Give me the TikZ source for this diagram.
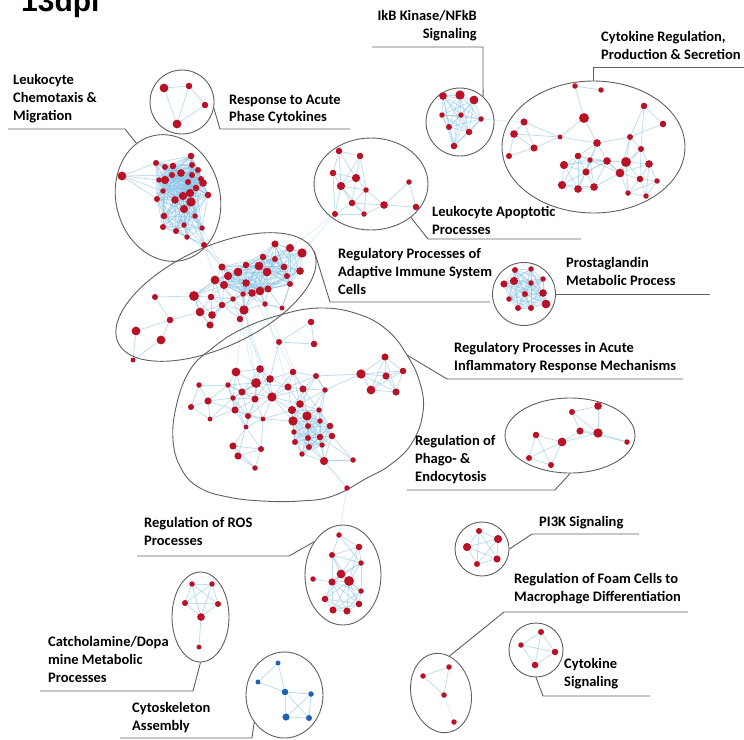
\documentclass[tikz,border=0pt]{standalone}
\usepackage{fontspec}
\setmainfont{Carlito}
\newfontfamily\titlefont{Liberation Sans}
\usetikzlibrary{shapes.geometric,backgrounds}

\definecolor{netred}{RGB}{185,18,38}
\definecolor{netblue}{RGB}{32,98,178}
\definecolor{assocblue}{RGB}{135,195,230}
\definecolor{ringgray}{RGB}{95,95,95}

\tikzset{
  gene/.style={circle, fill=netred, inner sep=0pt, minimum size=#1*1.1pt},
  bluegene/.style={gene=#1, fill=netblue},
  assoc/.style={draw=assocblue, line width=0.8pt, opacity=0.55},
  faintassoc/.style={assoc, opacity=0.3},
  ring/.style={ellipse, draw=ringgray, line width=0.9pt, inner sep=0pt},
  leader/.style={draw=ringgray, line width=0.9pt},
  termlabel/.style={font=\fontsize{14.5}{17.7}\selectfont\bfseries, align=left, anchor=north west, inner sep=0pt},
}

% links between all genes of one group that lie closer than #4
\newcommand\meshnear[4]{%
  \foreach \i in {#2,...,#3}{%
    \foreach \j in {#2,...,#3}{%
      \ifnum\j>\i\relax
        \pgfpointdiff{\pgfpointanchor{#1\i}{center}}{\pgfpointanchor{#1\j}{center}}%
        \pgfgetlastxy{\dx}{\dy}%
        \pgfmathtruncatemacro{\isnear}{veclen(\dx,\dy)<#4}%
        \ifnum\isnear=1 \draw[assoc] (#1\i) -- (#1\j);\fi
      \fi}}}

\begin{document}
\begin{tikzpicture}[x=1pt,y=-1pt]
\useasboundingbox (0,0) rectangle (744,739);
\clip (0,0) rectangle (744,739);

\node[font=\titlefont\bfseries\fontsize{30}{36}\selectfont, anchor=base west, inner sep=0pt] (title) at (21,11) {13dpi};

% group borders
\node[ring, minimum width=64pt, minimum height=64pt] (rsring) at (182,102) {};
\node[ring, minimum width=104pt, minimum height=128pt, rotate=14] (chring) at (168,198) {};
\node[ring, minimum width=68pt, minimum height=68pt] (ikring) at (460,122) {};
\node[ring, minimum width=183pt, minimum height=132pt] (cyring) at (593.5,147) {};
\node[ring, minimum width=114pt, minimum height=92pt] (apring) at (371,184) {};
\node[ring, minimum width=216pt, minimum height=100pt, rotate=25] (adring) at (216,297) {};
\node[ring, minimum width=63pt, minimum height=63pt] (pgring) at (524,294) {};
\draw[leader] plot[smooth cycle, tension=0.7] coordinates {(320,308) (358,314) (387,330) (407,355) (420,383) (423,412) (412,443) (390,465) (367,478) (333,496) (300,501) (262,501) (228,497) (200,488) (182,470) (173,440) (177,403) (190,370) (210,350) (240,330) (280,315)};
\coordinate (actip) at (407,355);
\node[ring, minimum width=130pt, minimum height=75pt] (phring) at (570,435.5) {};
\node[ring, minimum width=76pt, minimum height=100pt] (roring) at (343,575) {};
\node[ring, minimum width=57pt, minimum height=90pt] (caring) at (200.5,617) {};
\node[ring, minimum width=77pt, minimum height=86pt] (skring) at (284.5,695) {};
\node[ring, minimum width=54pt, minimum height=54pt] (piring) at (482,549) {};
\node[ring, minimum width=60pt, minimum height=80pt, rotate=12] (foring) at (441,693) {};
\node[ring, minimum width=54pt, minimum height=54pt] (csring) at (536,650) {};

% genes
\foreach \x/\y/\d [count=\n] in {164/88/8, 189/86/6, 205/105/6, 177/124/8}
  \node[gene=\d] (rs\n) at (\x,\y) {};
\foreach \x/\y/\d [count=\n] in {122/176/8, 156/163/5.5, 165/167/5.5, 173/166/6, 191/156/6, 192/165/5.5, 198/170/5.5, 181/173/7, 172/175/5.5, 192/175/5.5, 159/180/5, 165/180/7.5, 188/182/5.5, 201/179/5.5, 203/183/7, 163/191/5, 196/188/6, 190/193/7.5, 183/196/7.5, 208/195/6, 157/199/5.5, 175/200/7, 191/202/8.5, 184/209/7.5, 164/216/6, 195/216/5, 163/227/5.5, 184/225/5, 176/231/5.5, 202/228/5, 187/237/5, 204/245/5.5}
  \node[gene=\d] (ch\n) at (\x,\y) {};
\foreach \x/\y/\d [count=\n] in {443/96/7, 460/95/8.5, 474/100/8, 442/115/5, 461/115/5, 481/119/5, 449/127/5.5, 469/132/6, 454/146/6}
  \node[gene=\d] (ik\n) at (\x,\y) {};
\foreach \x/\y/\d [count=\n] in {575/86/5, 601/90/5, 584/118/9, 644/106/6, 663/124/6, 524/122/6.5, 514/134/7, 534/148/6.5, 509/156/5.5, 560/137/4.5, 597/143/7, 630/137/5.5, 641/149/5.5, 578/156/6, 590/160/5, 607/161/7, 626/162/9, 649/164/7, 564/165/7.5, 586/172/6.5, 620/173/8, 640/179/6, 657/181/5, 562/185/7.5, 578/189/7, 594/187/7, 628/193/5, 646/196/5}
  \node[gene=\d] (cy\n) at (\x,\y) {};
\foreach \x/\y/\d [count=\n] in {339/151/6, 360/156/6, 333/173/6, 356/178/7.5, 341/186/7.5, 366/190/5, 352/203/6, 335/214/5.5, 364/214/5, 384/205/7, 409/182/5, 416/207/6}
  \node[gene=\d] (ap\n) at (\x,\y) {};
\foreach \x/\y/\d [count=\n] in {275/244/6.5, 290/248/7.5, 302/253/8.5, 263/257/6, 275/259/5.5, 222/267/6.5, 246/265/6, 259/266/8, 284/267/6, 300/271/7, 228/276/7.5, 238/272/8, 267/272/8, 287/276/5.5, 215/280/8, 246/283/7, 224/285/7.5, 268/289/6.5, 290/284/5.5, 260/291/8, 252/293/7, 243/294/5, 155/297/5.5, 194/296/9, 211/297/6, 233/299/5, 265/304/5, 222/305/6, 244/310/8.5, 200/312/8, 212/315/7, 282/308/4.5, 170/320/6, 240/319/6, 210/325/6.5, 136/331/8, 161/340/8, 133/360/4.5}
  \node[gene=\d] (ad\n) at (\x,\y) {};
\foreach \x/\y/\d [count=\n] in {515/270/5.5, 531/269/5, 543/279/5, 504/284/6.5, 514/281/7.5, 531/283/5, 543/293/7, 525/294/5.5, 509/299/5, 546/304/8, 518/308/5.5, 531/308/5.5}
  \node[gene=\d] (pg\n) at (\x,\y) {};
\foreach \x/\y/\d [count=\n] in {311/322/6, 279/342/5.5, 314/344/6, 385/357/6.5, 361/374/8.5, 386/376/6.5, 403/371/6, 371/390/8, 396/392/6.5, 236/372/8, 260/369/7, 270/379/7, 293/372/6, 316/376/5.5, 199/385/5, 228/385/5, 256/383/9, 288/387/6.5, 303/389/6.5, 325/390/5, 208/401/6.5, 233/398/5, 242/392/6.5, 255/399/6.5, 272/397/8.5, 191/407/5.5, 235/410/6.5, 300/404/7, 292/410/7.5, 319/410/5, 210/419/4.5, 248/416/5.5, 263/419/4.5, 307/416/8.5, 293/421/8.5, 246/427/4.5, 308/426/5.5, 320/421/5, 330/426/6, 294/432/5, 320/437/6, 332/436/6, 308/438/5.5, 295/442/5.5, 322/445/5, 233/446/6.5, 261/449/5.5, 309/447/5.5, 302/454/5, 238/456/6.5, 324/461/7.5, 353/460/5, 255/468/5, 347/488/5}
  \node[gene=\d] (ac\n) at (\x,\y) {};
\foreach \x/\y/\d [count=\n] in {598/406/7, 572/412/5.5, 580/431/6.5, 598/433/8.5, 562/442/8, 536/435/6, 627/442/5, 529/458/5.5, 551/465/5.5}
  \node[gene=\d] (ph\n) at (\x,\y) {};
\foreach \x/\y/\d [count=\n] in {339/535/5, 359/547/6, 332/555/5.5, 361/563/5, 341/574/8, 349/581/9, 332/582/6.5, 361/591/5, 325/599/6, 359/604/6, 333/610/6.5, 347/611/6.5, 313/579/5}
  \node[gene=\d] (ro\n) at (\x,\y) {};
\foreach \x/\y/\d [count=\n] in {192/584/5, 212/584/5, 185/603/5.5, 218/604/5.5, 201/617/7, 199/647/4.5}
  \node[gene=\d] (ca\n) at (\x,\y) {};
\foreach \x/\y/\d [count=\n] in {278/663/4.5, 258/682/4.5, 285/692/6, 311/694/5, 286/717/6.5, 309/718/5.5}
  \node[bluegene=\d] (sk\n) at (\x,\y) {};
\foreach \x/\y/\d [count=\n] in {479/531/5.5, 498/539/7.5, 467/547/7.5, 497/559/6.5, 477/564/5.5}
  \node[gene=\d] (pi\n) at (\x,\y) {};
\foreach \x/\y/\d [count=\n] in {449/667/5, 423/676/5, 444/695/5, 454/722/5}
  \node[gene=\d] (fo\n) at (\x,\y) {};
\foreach \x/\y/\d [count=\n] in {541/632/5.5, 521/645/5, 555/652/6, 535/665/6}
  \node[gene=\d] (cs\n) at (\x,\y) {};

% labels
\node[termlabel] (chlabel) at (13,74.5) {Leukocyte\\Chemotaxis \&\\Migration};
\node[termlabel] (rslabel) at (229,94.5) {Response to Acute\\Phase Cytokines};
\node[termlabel, anchor=north east, align=right] (iklabel) at (477,10.5) {IkB Kinase/NFkB\\Signaling};
\node[termlabel] (cylabel) at (601,31.5) {Cytokine Regulation,\\Production \& Secretion};
\node[termlabel] (aplabel) at (432,206.5) {Leukocyte Apoptotic\\Processes};
\node[termlabel] (adlabel) at (338,248.5) {Regulatory Processes of\\Adaptive Immune System\\Cells};
\node[termlabel] (pglabel) at (566,257.5) {Prostaglandin\\Metabolic Process};
\node[termlabel] (aclabel) at (454,342.5) {Regulatory Processes in Acute\\Inflammatory Response Mechanisms};
\node[termlabel] (phlabel) at (415,435.5) {Regulation of\\Phago- \&\\Endocytosis};
\node[termlabel] (rolabel) at (144,517.5) {Regulation of ROS\\Processes};
\node[termlabel] (pilabel) at (539,516.5) {PI3K Signaling};
\node[termlabel] (folabel) at (514,573.5) {Regulation of Foam Cells to\\Macrophage Differentiation};
\node[termlabel] (calabel) at (48,636.5) {Catcholamine/Dopa\\mine Metabolic\\Processes};
\node[termlabel] (cslabel) at (564,658.5) {Cytokine\\Signaling};
\node[termlabel] (sklabel) at (132,702.5) {Cytoskeleton\\Assembly};

% leader lines
\path (125,129) coordinate (chbend) (8,129) coordinate (chend)
      (220,129) coordinate (rsbend) (350,129) coordinate (rsend)
      (483,47) coordinate (ikbend) (372,47) coordinate (ikend)
      (593.5,67) coordinate (cybend) (744,67) coordinate (cyend)
      (428,239) coordinate (apbend) (581,239) coordinate (apend)
      (330,302) coordinate (adbend) (490,302) coordinate (adend)
      (710,294) coordinate (pgend)
      (447,379) coordinate (acbend) (683,379) coordinate (acend)
      (555,490) coordinate (phbend) (407,490) coordinate (phend)
      (289,556) coordinate (robend) (137,556) coordinate (roend)
      (532,534) coordinate (pibend) (639,534) coordinate (piend)
      (504,612) coordinate (fobend) (688,612) coordinate (foend)
      (543,696) coordinate (csbend) (650,696) coordinate (csend)
      (193,691) coordinate (cabend) (40,691) coordinate (caend)
      (252,738) coordinate (skbend) (120,738) coordinate (skend);
\draw[leader] (chring.106) -- (chbend) -- (chend);
\draw[leader] (rsring.-11) -- (rsbend) -- (rsend);
\draw[leader] (ikring.48) -- (ikbend) -- (ikend);
\draw[leader] (cyring.north) -- (cybend) -- (cyend);
\draw[leader] (apring.-40) -- (apbend) -- (apend);
\draw[leader] (adring.east) -- (adbend) -- (adend);
\draw[leader] (pgring.east) -- (pgend);
\draw[leader] (actip) -- (acbend) -- (acend);
\draw[leader] (phring.south) -- (phbend) -- (phend);
\draw[leader] (roring.131) -- (robend) -- (roend);
\draw[leader] (piring.east) -- (pibend) -- (piend);
\draw[leader] (foring.65) -- (fobend) -- (foend);
\draw[leader] (csring.south) -- (csbend) -- (csend);
\draw[leader] (caring.south) -- (cabend) -- (caend);
\draw[leader] (skring.222) -- (skbend) -- (skend);

% associations
\begin{scope}[on background layer]
\foreach \a/\b in {1/2,2/3,1/4,2/4,3/4} \draw[assoc] (rs\a) -- (rs\b);
\meshnear{ik}{1}{9}{60}
\meshnear{ch}{2}{32}{42}
\foreach \b in {2,9,11,16,21} \draw[assoc] (ch1) -- (ch\b);
\foreach \a/\b in {1/2,1/3,3/11,4/5,4/12,5/12,4/13,6/7,6/8,7/8,7/9,8/9,6/10,7/10,8/10,10/11,11/12,11/14,11/15,11/16,11/20,12/17,12/13,12/21,16/19,16/20,16/21,3/10}
  \draw[assoc] (cy\a) -- (cy\b);
\meshnear{cy}{13}{28}{34}
\foreach \a/\b in {1/2,1/3,1/4,1/5,2/4,2/5,3/5,3/4,4/5,4/6,4/7,5/6,5/7,5/8,5/9,6/7,6/9,7/8,7/9,7/10,8/9,9/10,6/10,10/11,10/12,11/12,3/8,2/6}
  \draw[assoc] (ap\a) -- (ap\b);
\meshnear{ad}{1}{22}{45}
\meshnear{ad}{15}{35}{27}
\foreach \a/\b in {23/24,24/30,33/30,33/36,33/37,36/38,37/38,24/15,24/17,24/11,29/21,29/16,34/29,27/20,32/19,32/27,30/35,23/33}
  \draw[assoc] (ad\a) -- (ad\b);
\meshnear{pg}{1}{12}{60}
\meshnear{ac}{10}{53}{33}
\meshnear{ac}{4}{9}{50}
\foreach \a/\b in {1/2,1/3,2/3,5/14,5/20,51/52,51/54,41/52,2/12,14/20}
  \draw[assoc] (ac\a) -- (ac\b);
\foreach \a/\b in {1/2,2/3,1/4,2/4,3/4,3/5,4/5,4/7,3/7,5/6,5/8,5/9,6/8,6/9,8/9}
  \draw[assoc] (ph\a) -- (ph\b);
\meshnear{ro}{1}{12}{36}
\draw[assoc] (ro13) -- (ro7);
\meshnear{ca}{1}{5}{50}
\draw[assoc] (ca5) -- (ca6);
\foreach \a/\b in {1/2,1/3,2/3,3/4,3/5,3/6,4/5,4/6,5/6}
  \draw[assoc] (sk\a) -- (sk\b);
\meshnear{pi}{1}{5}{60}
\foreach \a/\b in {1/2,2/3,1/3} \draw[assoc] (fo\a) -- (fo\b);
\draw[faintassoc] (fo3) -- (fo4);
\meshnear{cs}{1}{4}{60}
% faint links across groups
\foreach \a/\b in {ik6/cy6, ap8/ad3, ap8/ad2, ch32/ad6, ch32/ad11, ch30/ad6, ch26/ad15, ch31/ad12, ad29/ac11, ad34/ac17, ad34/ac12, ad21/ac13, ad20/ac18, ad16/ac10, ad29/ac25, ad27/ac19, ad22/ac17, ac54/ro1}
  \draw[faintassoc] (\a) -- (\b);
\end{scope}
\end{tikzpicture}
\end{document}
